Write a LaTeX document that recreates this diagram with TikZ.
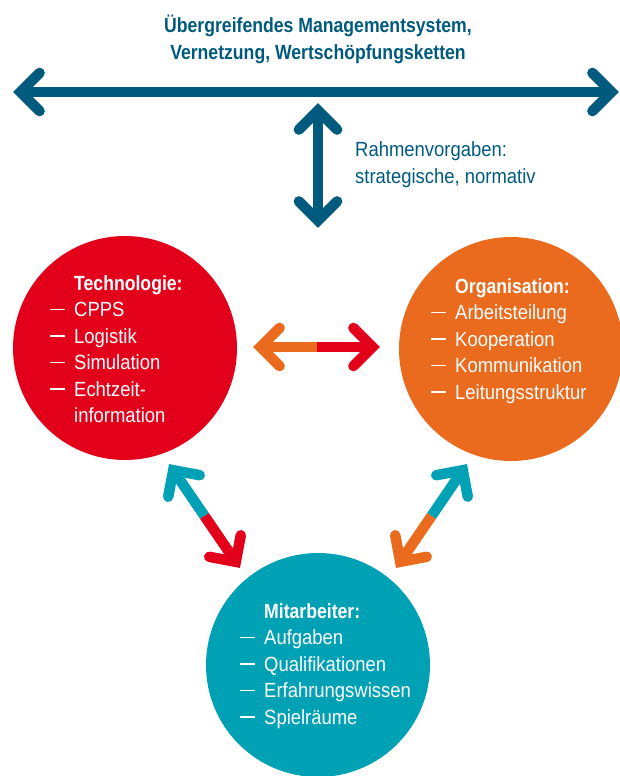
\documentclass[tikz,border=0pt]{standalone}
\usepackage{fontspec}
\setmainfont{Liberation Sans}[FakeStretch=0.9]
\newfontfamily\boldcn{Liberation Sans}[FakeStretch=0.86]
\usetikzlibrary{calc}
\definecolor{navy}{HTML}{005A7E}
\definecolor{cred}{HTML}{E2001A}
\definecolor{corange}{HTML}{EA6A1E}
\definecolor{cteal}{HTML}{00A1B5}
\newcommand\dashmark{\rule[6.2pt]{15pt}{1.6pt}}
% #1 colour, #2 tip, #3 point towards tail, #4 name of vertex
\newcommand\myhead[4]{%
  \coordinate (#4) at ($(#2)!7.5pt!(#3)$);
  \draw[arw,#1] ($(#4)!27pt!45:(#3)$) -- (#4) -- ($(#4)!27pt!-45:(#3)$);}
\tikzset{
  arw/.style={line width=10.5pt, line cap=round, line join=miter},
  shaft/.style={line width=10.5pt, line cap=butt},
  disc/.style={circle, inner sep=0pt, minimum size=224pt},
  txt/.style={inner sep=0pt, anchor=base west, text=white, font=\fontsize{20.5}{26.5}\selectfont},
  navytxt/.style={inner sep=0pt, text=navy, font=\fontsize{20.5}{27}\selectfont}
}
\begin{document}
\begin{tikzpicture}[x=1pt,y=-1pt]
\useasboundingbox (0,0) rectangle (620,776);
% circles
\node[disc, fill=cred] (tech) at (125,348) {};
\node[disc, fill=corange] (org) at (511,349) {};
\node[disc, fill=cteal] (mit) at (318,665) {};
% texts
\node[navytxt, anchor=base] (title) at (318,33) {\begin{tabular}[t]{@{}c@{}}\boldcn\bfseries Übergreifendes Managementsystem,\\ \boldcn\bfseries Vernetzung, Wertschöpfungsketten\end{tabular}};
\node[navytxt, anchor=base west] (rahmen) at (355,156) {\begin{tabular}[t]{@{}l@{}}Rahmenvorgaben:\\ strategische, normativ\end{tabular}};
\node[txt] (techtext) at (50,290) {\begin{tabular}[t]{@{}l@{\hspace{9pt}}l@{}}
 & {\boldcn\bfseries Technologie:}\\
\dashmark & CPPS\\
\dashmark & Logistik\\
\dashmark & Simulation\\
\dashmark & Echtzeit-\\
 & information
\end{tabular}};
\node[txt] (orgtext) at (431,293) {\begin{tabular}[t]{@{}l@{\hspace{9pt}}l@{}}
 & {\boldcn\bfseries Organisation:}\\
\dashmark & Arbeitsteilung\\
\dashmark & Kooperation\\
\dashmark & Kommunikation\\
\dashmark & Leitungsstruktur
\end{tabular}};
\node[txt] (mittext) at (240,618) {\begin{tabular}[t]{@{}l@{\hspace{9pt}}l@{}}
 & {\boldcn\bfseries Mitarbeiter:}\\
\dashmark & Aufgaben\\
\dashmark & Qualifikationen\\
\dashmark & Erfahrungswissen\\
\dashmark & Spielräume
\end{tabular}};
% arrow tips
\coordinate (hl) at (13,92);
\coordinate (hr) at (619,92);
\coordinate (vt) at (318,103);
\coordinate (vb) at (318,228);
\coordinate (ml) at (253,347);
\coordinate (mr) at (380,347);
\coordinate (lt) at (169,464);
\coordinate (lb) at (240,568);
\coordinate (rt) at (467,464);
\coordinate (rb) at (396,568);
\coordinate (mm) at ($(ml)!0.5!(mr)$);
\coordinate (lm) at ($(lt)!0.5!(lb)$);
\coordinate (rm) at ($(rt)!0.5!(rb)$);
% top horizontal arrow
\myhead{navy}{hl}{hr}{hlv}
\myhead{navy}{hr}{hl}{hrv}
\draw[shaft, navy] (hlv) -- (hrv);
% vertical arrow
\myhead{navy}{vt}{vb}{vtv}
\myhead{navy}{vb}{vt}{vbv}
\draw[shaft, navy] (vtv) -- (vbv);
% middle arrow
\draw[shaft, corange] ($(ml)!7.5pt!(mr)$) -- (mm);
\draw[shaft, cred] (mm) -- ($(mr)!7.5pt!(ml)$);
\myhead{corange}{ml}{mr}{mlv}
\myhead{cred}{mr}{ml}{mrv}
% left diagonal
\draw[shaft, cteal] ($(lt)!7.5pt!(lb)$) -- (lm);
\draw[shaft, cred] (lm) -- ($(lb)!7.5pt!(lt)$);
\myhead{cteal}{lt}{lb}{ltv}
\myhead{cred}{lb}{lt}{lbv}
% right diagonal
\draw[shaft, cteal] ($(rt)!7.5pt!(rb)$) -- (rm);
\draw[shaft, corange] (rm) -- ($(rb)!7.5pt!(rt)$);
\myhead{cteal}{rt}{rb}{rtv}
\myhead{corange}{rb}{rt}{rbv}
\end{tikzpicture}
\end{document}
